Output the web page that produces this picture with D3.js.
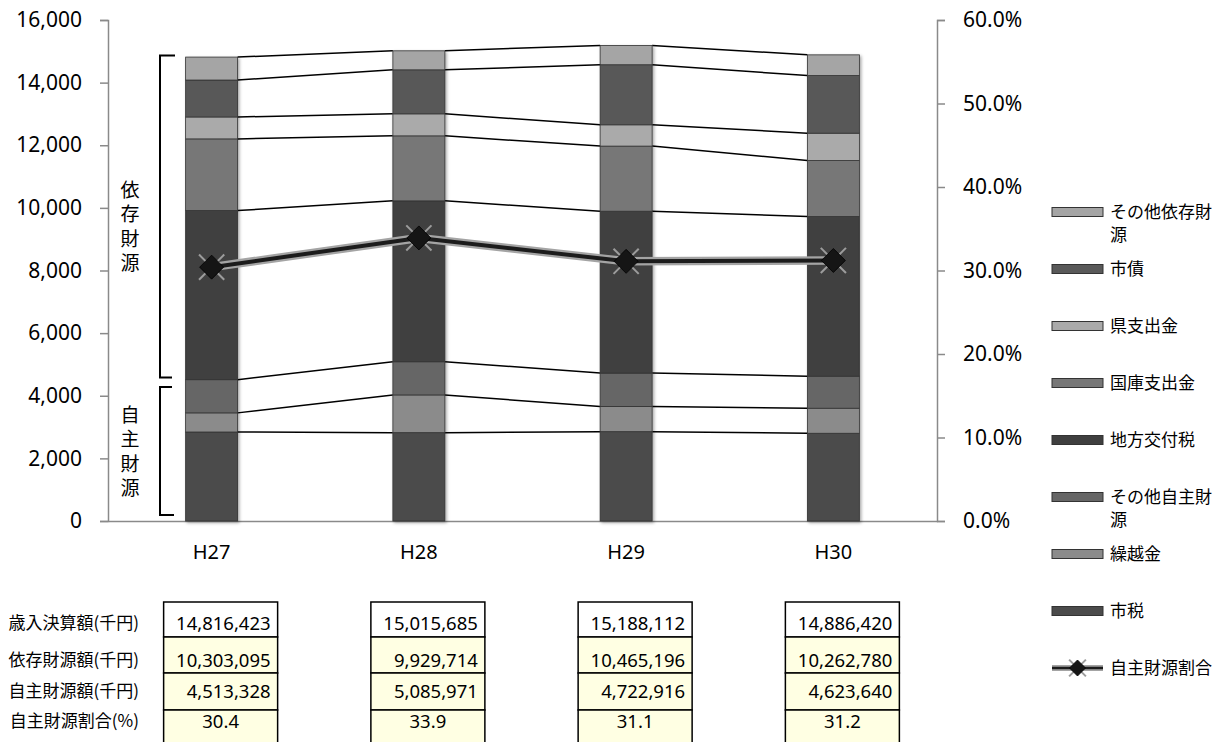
<!DOCTYPE html>
<html>
<head>
<meta charset="utf-8">
<script src="https://cdn.jsdelivr.net/npm/d3@7"></script>
<style>
  body { margin: 0; background: #fff; }
  svg { display: block; }
  text { font-family: "Noto Sans", "Noto Sans CJK JP", sans-serif; fill: #000; }
  .jp { font-family: "Noto Sans CJK JP", "Noto Sans", sans-serif; }
  .vert { writing-mode: vertical-rl; text-orientation: upright; }
</style>
</head>
<body>
<svg id="chart" width="1227" height="742"></svg>
<script>
// 年度
const years = ["H27", "H28", "H29", "H30"];

// 歳入内訳（百万円）: 下から順に積み上げ
const shizei       = [2843, 2822, 2854, 2802];   // 市税
const kurikoshi    = [610, 1204, 800, 800];      // 繰越金
const sonotaJishu  = [1060, 1060, 1069, 1022];   // その他自主財源
const chihoKofu    = [5400, 5138, 5170, 5098];   // 地方交付税
const kokko        = [2290, 2076, 2080, 1789];   // 国庫支出金
const kenShishutsu = [700, 703, 680, 875];       // 県支出金
const shisai       = [1180, 1406, 1918, 1840];   // 市債
const sonotaIzon   = [733, 607, 617, 661];       // その他依存財源

// 自主財源割合（%）
const jishuRatio = [30.4, 33.9, 31.1, 31.2];

// 表の値（千円）
const totalRevenue = [14816423, 15015685, 15188112, 14886420];
const izonAmount   = [10303095, 9929714, 10465196, 10262780];
const jishuAmount  = [4513328, 5085971, 4722916, 4623640];

// 軸目盛
const leftTicks  = [0, 2000, 4000, 6000, 8000, 10000, 12000, 14000, 16000];
const rightTicks = [0, 10, 20, 30, 40, 50, 60];

const seriesNames = ["市税", "繰越金", "その他自主財源", "地方交付税", "国庫支出金", "県支出金", "市債", "その他依存財源"];
const seriesValues = [shizei, kurikoshi, sonotaJishu, chihoKofu, kokko, kenShishutsu, shisai, sonotaIzon];
const seriesColors = ["#4b4b4b", "#8b8b8b", "#666666", "#3f3f3f", "#777777", "#aaaaaa", "#595959", "#a5a5a5"];

const rows = years.map((y, i) => {
  const r = { year: y };
  seriesNames.forEach((n, k) => r[n] = seriesValues[k][i]);
  return r;
});

const svg = d3.select("#chart");
const plot = { left: 108, right: 937, top: 20, bottom: 521 };

const x = d3.scaleBand().domain(years).range([plot.left, plot.right]).paddingInner(0).paddingOuter(0);
const y = d3.scaleLinear().domain([0, 16000]).range([plot.bottom, plot.top]);
const yR = d3.scaleLinear().domain([0, 60]).range([plot.bottom, plot.top]);
const barW = 52;
const cx = d => x(d) + x.bandwidth() / 2;

// 影
const defs = svg.append("defs");
const f = defs.append("filter").attr("id", "shadow").attr("x", "-20%").attr("y", "-5%").attr("width", "140%").attr("height", "110%");
f.append("feDropShadow").attr("dx", 1.5).attr("dy", 1.5).attr("stdDeviation", 1.6)
  .attr("flood-color", "#000").attr("flood-opacity", 0.35);

// 左軸
const axisL = d3.axisLeft(y).tickValues(leftTicks).tickSize(8).tickPadding(18)
  .tickFormat(d3.format(","));
const gL = svg.append("g").attr("transform", `translate(${plot.left},0)`).call(axisL);
gL.select(".domain").attr("stroke", "#8a8a8a").attr("stroke-width", 1.5);
gL.selectAll(".tick line").attr("stroke", "#8a8a8a").attr("stroke-width", 1.5);
gL.selectAll(".tick text").style("font-size", "21px").attr("fill", "#000");

// 右軸
const axisR = d3.axisRight(yR).tickValues(rightTicks).tickSize(8).tickPadding(18)
  .tickFormat(d => d3.format(".1f")(d) + "%");
const gR = svg.append("g").attr("transform", `translate(${plot.right},0)`).call(axisR);
gR.select(".domain").attr("stroke", "#8a8a8a").attr("stroke-width", 1.5);
gR.selectAll(".tick line").attr("stroke", "#8a8a8a").attr("stroke-width", 1.5);
gR.selectAll(".tick text").style("font-size", "21px").attr("fill", "#000");

// 横軸
const axisB = d3.axisBottom(x).tickSize(0).tickPadding(24);
const gB = svg.append("g").attr("transform", `translate(0,${plot.bottom})`).call(axisB);
gB.select(".domain").attr("stroke", "#8a8a8a").attr("stroke-width", 1.5);
gB.selectAll(".tick text").style("font-size", "20px").attr("fill", "#000");

// 積み上げ
const stack = d3.stack().keys(seriesNames);
const stacked = stack(rows);

// 区切り線（各系列の上端を隣の棒と結ぶ）
const gLinks = svg.append("g");
stacked.forEach(layer => {
  for (let i = 0; i < years.length - 1; i++) {
    gLinks.append("line")
      .attr("x1", cx(years[i]) + barW / 2).attr("y1", y(layer[i][1]))
      .attr("x2", cx(years[i + 1]) - barW / 2).attr("y2", y(layer[i + 1][1]))
      .attr("stroke", "#000").attr("stroke-width", 1.5);
  }
});

// 棒
const gBars = svg.append("g").attr("filter", "url(#shadow)");
stacked.forEach((layer, k) => {
  gBars.append("g").selectAll("rect").data(layer).join("rect")
    .attr("x", d => cx(d.data.year) - barW / 2)
    .attr("width", barW)
    .attr("y", d => y(d[1]))
    .attr("height", d => y(d[0]) - y(d[1]))
    .attr("fill", seriesColors[k])
    .attr("stroke", "#333").attr("stroke-width", 0.8);
});

// 自主財源割合の折れ線
const line = d3.line().x((d, i) => cx(years[i])).y(d => yR(d));
svg.append("path").datum(jishuRatio).attr("d", line)
  .attr("fill", "none").attr("stroke", "#a4a4a4").attr("stroke-width", 8.5).attr("stroke-linejoin", "round");
svg.append("path").datum(jishuRatio).attr("d", line)
  .attr("fill", "none").attr("stroke", "#1c1c1c").attr("stroke-width", 4).attr("stroke-linejoin", "round");

function marker(g, px, py, s) {
  const xs = s * 1.05;
  g.append("line").attr("x1", px - xs).attr("y1", py - xs).attr("x2", px + xs).attr("y2", py + xs)
    .attr("stroke", "#9c9c9c").attr("stroke-width", 2);
  g.append("line").attr("x1", px - xs).attr("y1", py + xs).attr("x2", px + xs).attr("y2", py - xs)
    .attr("stroke", "#9c9c9c").attr("stroke-width", 2);
  g.append("path")
    .attr("d", `M${px},${py - s}L${px + s},${py}L${px},${py + s}L${px - s},${py}Z`)
    .attr("fill", "#151515").attr("stroke", "#000").attr("stroke-width", 0.8);
}
const gMarks = svg.append("g");
jishuRatio.forEach((v, i) => marker(gMarks, cx(years[i]), yR(v), 12));

// 依存財源・自主財源の括弧（縦書きラベル付き）
const brackets = [
  { label: "依存財源", top: 55.5, bottom: 377.5, topTick: 175, botTick: 172, textTop: 180 },
  { label: "自主財源", top: 387, bottom: 515, topTick: 172, botTick: 174, textTop: 405 }
];
const bx = 160;
brackets.forEach(b => {
  svg.append("path")
    .attr("d", `M${b.topTick},${b.top}H${bx}V${b.bottom}H${b.botTick}`)
    .attr("fill", "none").attr("stroke", "#000").attr("stroke-width", 2);
  svg.append("text").attr("class", "jp vert").attr("x", 130).attr("y", b.textTop)
    .style("font-size", "19px").style("letter-spacing", "5.5px").text(b.label);
});

// 凡例
const legendItems = seriesNames.map((n, k) => ({ name: n, color: seriesColors[k] })).reverse();
const legendY0 = 212, legendStep = 57;
const gLeg = svg.append("g");
legendItems.forEach((it, i) => {
  const ly = legendY0 + i * legendStep;
  gLeg.append("rect").attr("x", 1052).attr("y", ly - 4.5).attr("width", 51).attr("height", 9)
    .attr("fill", it.color).attr("stroke", "#333").attr("stroke-width", 1);
  const t = gLeg.append("text").attr("class", "jp").attr("x", 1110).attr("y", ly + 6).style("font-size", "17px");
  const chars = Array.from(it.name);
  if (chars.length > 6) {
    t.append("tspan").attr("x", 1110).text(chars.slice(0, 6).join(""));
    t.append("tspan").attr("x", 1110).attr("dy", 23).text(chars.slice(6).join(""));
  } else {
    t.text(it.name);
  }
});
{
  const ly = legendY0 + legendItems.length * legendStep;
  gLeg.append("line").attr("x1", 1052).attr("x2", 1103).attr("y1", ly).attr("y2", ly)
    .attr("stroke", "#a4a4a4").attr("stroke-width", 6);
  gLeg.append("line").attr("x1", 1052).attr("x2", 1103).attr("y1", ly).attr("y2", ly)
    .attr("stroke", "#1c1c1c").attr("stroke-width", 2.5);
  marker(gLeg, 1077.5, ly, 8);
  gLeg.append("text").attr("class", "jp").attr("x", 1110).attr("y", ly + 6).style("font-size", "17px").text("自主財源割合");
}

// 表
const tableRows = [
  { label: "歳入決算額(千円)", values: totalRevenue.map(d3.format(",")), fill: "#ffffff", align: "end" },
  { label: "依存財源額(千円)", values: izonAmount.map(d3.format(",")), fill: "#ffffe3", align: "end" },
  { label: "自主財源額(千円)", values: jishuAmount.map(d3.format(",")), fill: "#ffffe3", align: "end" },
  { label: "自主財源割合(%)", values: jishuRatio.map(d3.format(".1f")), fill: "#ffffe3", align: "middle" }
];
const rowEdges = [602, 637, 673, 710, 748];
const textCenters = [623, 660, 691, 721];
const cellW = 114;
const gTab = svg.append("g");
tableRows.forEach((r, ri) => {
  gTab.append("text").attr("class", "jp").attr("x", 139).attr("y", textCenters[ri] + 6)
    .attr("text-anchor", "end").style("font-size", "17px").text(r.label);
  years.forEach((yr, i) => {
    const left = cx(yr) + 9 - cellW / 2;
    gTab.append("rect").attr("x", left).attr("y", rowEdges[ri]).attr("width", cellW)
      .attr("height", rowEdges[ri + 1] - rowEdges[ri]).attr("fill", r.fill)
      .attr("stroke", "#000").attr("stroke-width", 1.5);
    const tx = r.align === "end" ? left + cellW - 7 : left + cellW / 2;
    gTab.append("text").attr("x", tx).attr("y", textCenters[ri] + 6.5)
      .attr("text-anchor", r.align).style("font-size", "18.5px").text(r.values[i]);
  });
});
</script>
</body>
</html>
